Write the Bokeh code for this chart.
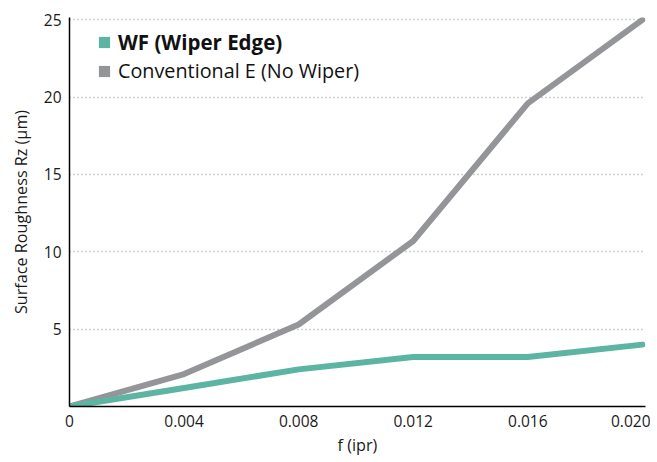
from bokeh.plotting import figure
from bokeh.models import FixedTicker, Legend, LegendItem, Range1d
from bokeh.embed import file_html
from bokeh.resources import INLINE

feed = [0.0, 0.004, 0.008, 0.012, 0.016, 0.020]
wiper = [0.0, 1.2, 2.4, 3.2, 3.2, 4.0]
conventional = [0.0, 2.1, 5.3, 10.7, 19.6, 25.0]
x_ticks = [0.0, 0.004, 0.008, 0.012, 0.016, 0.020]
x_tick_labels = ["0", "0.004", "0.008", "0.012", "0.016", "0.020"]
y_ticks = [5, 10, 15, 20, 25]
series_names = ["WF (Wiper Edge)", "Conventional E (No Wiper)"]

TEAL = "#5cb5a3"
GREY = "#949598"
FONT = "Open Sans"

p = figure(width=650, height=458, output_backend="svg", toolbar_location=None,
           x_range=Range1d(0, 0.02011), y_range=Range1d(0, 25.15),
           min_border_left=69, min_border_right=5, min_border_top=17, min_border_bottom=51)
p.outline_line_color = None
p.background_fill_color = "white"

p.line(feed, conventional, line_color=GREY, line_width=6, line_join="round", line_cap="round")
p.line(feed, wiper, line_color=TEAL, line_width=6, line_join="round", line_cap="round")

p.xgrid.grid_line_color = None
p.ygrid.grid_line_color = "#a0a0a0"
p.ygrid.grid_line_dash = "1 3"
p.ygrid.grid_line_width = 1.5
p.ygrid.ticker = FixedTicker(ticks=y_ticks)

p.xaxis.ticker = FixedTicker(ticks=x_ticks)
p.xaxis.major_label_overrides = {t: l for t, l in zip(x_ticks, x_tick_labels)}
p.yaxis.ticker = FixedTicker(ticks=y_ticks)
for ax in (p.xaxis, p.yaxis):
    ax.axis_line_color = "black"
    ax.axis_line_width = 1.5
    ax.major_tick_line_color = None
    ax.minor_tick_line_color = None
    ax.major_tick_out = 0
    ax.major_tick_in = 0
    ax.major_label_text_font = FONT
    ax.major_label_text_font_size = "15.5px"
    ax.major_label_text_color = "#1a1a1a"
    ax.axis_label_text_font = FONT
    ax.axis_label_text_font_size = "16.2px"
    ax.axis_label_text_font_style = "normal"
    ax.axis_label_text_color = "#1a1a1a"
p.xaxis.major_label_standoff = 8
p.yaxis.major_label_standoff = 8
p.xaxis.axis_label = "f (ipr)"
p.yaxis.axis_label = "Surface Roughness Rz (µm)"
p.xaxis.axis_label_standoff = 4
p.yaxis.axis_label_standoff = 9

nan = float("nan")
sq1 = p.quad(left=[nan], right=[nan], bottom=[nan], top=[nan], fill_color=TEAL, line_color=None)
sq2 = p.quad(left=[nan], right=[nan], bottom=[nan], top=[nan], fill_color=GREY, line_color=None)

def make_legend(r, label, style, size, loc):
    lg = Legend(items=[LegendItem(label=label, renderers=[r])], location=loc,
                label_text_font=FONT, label_text_font_size=size,
                label_text_font_style=style, label_text_color="#111111",
                glyph_width=14, glyph_height=14, label_height=14, label_standoff=7,
                padding=0, margin=0, spacing=0, border_line_color=None,
                background_fill_alpha=0)
    p.add_layout(lg)

make_legend(sq1, series_names[0], "bold", "20.5px", (28, 350))
make_legend(sq2, series_names[1], "normal", "19.8px", (28, 322))

open("out.html", "w").write(file_html(p, INLINE))
